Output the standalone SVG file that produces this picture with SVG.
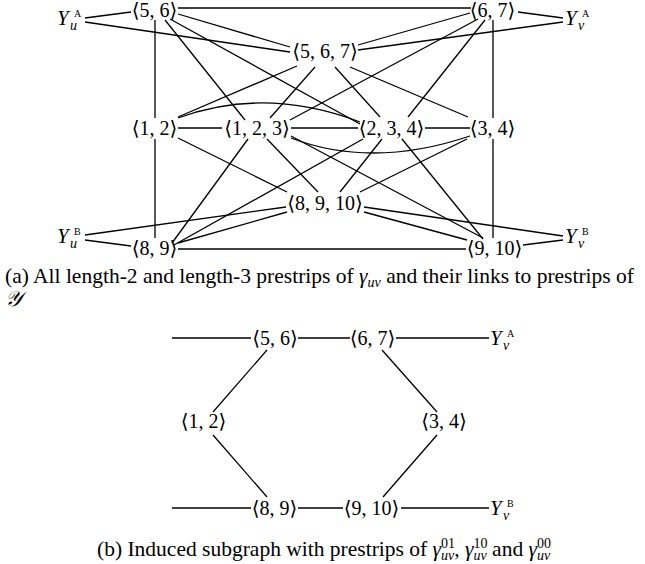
<svg xmlns="http://www.w3.org/2000/svg" width="645" height="564" viewBox="0 0 645 564">
<style>
.n{font-family:'Liberation Serif','DejaVu Serif',serif;font-size:20px;text-anchor:middle;fill:#000}
.y{font-family:'Liberation Serif','DejaVu Serif',serif;font-size:21px;fill:#000}
.y .i{font-style:italic}
.y .sup{font-size:10px}
.y .sub{font-size:14px;font-style:italic}
.c{font-family:'Liberation Serif','DejaVu Serif',serif;font-size:21.5px;fill:#000}
.c .i{font-style:italic}
.c .s{font-size:14px}
.e line,.e path{stroke:#000;stroke-width:1.3;fill:none}
</style>
<rect width="645" height="564" fill="#fff"/>
<g id="connectors-a" class="e">
<line x1="85" y1="18" x2="131" y2="12"/>
<line x1="85" y1="22" x2="290" y2="52"/>
<line x1="178" y1="8" x2="471" y2="8"/>
<line x1="518" y1="12" x2="563" y2="18"/>
<line x1="358" y1="50" x2="563" y2="22"/>
<line x1="358" y1="45" x2="470" y2="13"/>
<line x1="178" y1="14" x2="290" y2="47"/>
<line x1="155" y1="20" x2="155" y2="118"/>
<line x1="165" y1="20" x2="245" y2="120"/>
<line x1="170" y1="19" x2="360" y2="124"/>
<line x1="493" y1="20" x2="493" y2="118"/>
<line x1="485" y1="20" x2="408" y2="117"/>
<line x1="478" y1="19" x2="290" y2="120"/>
<line x1="297" y1="66" x2="178" y2="117"/>
<line x1="315" y1="67" x2="270" y2="118"/>
<line x1="335" y1="67" x2="380" y2="117"/>
<line x1="350" y1="67" x2="468" y2="117"/>
<line x1="178" y1="128" x2="222" y2="128"/>
<line x1="291" y1="128" x2="358" y2="128"/>
<line x1="425" y1="128" x2="470" y2="128"/>
<path d="M178,118 Q265,86 360,122"/>
<path d="M291,138 Q372,169 470,136"/>
<line x1="155" y1="139" x2="155" y2="238"/>
<line x1="178" y1="138" x2="287" y2="192"/>
<line x1="248" y1="139" x2="172" y2="243"/>
<line x1="267" y1="139" x2="318" y2="192"/>
<line x1="291" y1="136" x2="483" y2="238"/>
<line x1="363" y1="139" x2="174" y2="245"/>
<line x1="382" y1="139" x2="340" y2="192"/>
<line x1="402" y1="139" x2="483" y2="239"/>
<line x1="467" y1="139" x2="360" y2="192"/>
<line x1="493" y1="139" x2="493" y2="238"/>
<line x1="286" y1="207" x2="85" y2="235"/>
<line x1="287" y1="212" x2="178" y2="243"/>
<line x1="85" y1="240" x2="131" y2="246"/>
<line x1="178" y1="249" x2="466" y2="249"/>
<line x1="364" y1="207" x2="563" y2="236"/>
<line x1="364" y1="212" x2="467" y2="240"/>
<line x1="523" y1="245" x2="563" y2="240"/>
</g>
<g id="Yua"><text class="y" x="57" y="25"><tspan class="i">Y</tspan><tspan class="sup" x="74" y="17">A</tspan><tspan class="sub" x="70" y="30">u</tspan></text></g>
<g id="n56"><text class="n" x="154.5" y="17">⟨5, 6⟩</text></g>
<g id="n67"><text class="n" x="492.5" y="17">⟨6, 7⟩</text></g>
<g id="Yva"><text class="y" x="565" y="25"><tspan class="i">Y</tspan><tspan class="sup" x="582" y="17">A</tspan><tspan class="sub" x="578" y="30">v</tspan></text></g>
<g id="n567"><text class="n" x="325" y="58">⟨5, 6, 7⟩</text></g>
<g id="n12"><text class="n" x="154.5" y="135">⟨1, 2⟩</text></g>
<g id="n123"><text class="n" x="257" y="135">⟨1, 2, 3⟩</text></g>
<g id="n234"><text class="n" x="391.5" y="135">⟨2, 3, 4⟩</text></g>
<g id="n34"><text class="n" x="492.5" y="135">⟨3, 4⟩</text></g>
<g id="n8910"><text class="n" x="325" y="210">⟨8, 9, 10⟩</text></g>
<g id="Yub"><text class="y" x="57" y="243"><tspan class="i">Y</tspan><tspan class="sup" x="74" y="235">B</tspan><tspan class="sub" x="70" y="248">u</tspan></text></g>
<g id="n89"><text class="n" x="154.5" y="255">⟨8, 9⟩</text></g>
<g id="n910"><text class="n" x="494.5" y="255">⟨9, 10⟩</text></g>
<g id="Yvb"><text class="y" x="565" y="243"><tspan class="i">Y</tspan><tspan class="sup" x="582" y="235">B</tspan><tspan class="sub" x="578" y="248">v</tspan></text></g>
<g id="cap-a"><text class="c" x="5" y="283">(a) All length-2 and length-3 prestrips of <tspan class="i">γ</tspan><tspan class="i s" dy="4">uv</tspan><tspan dy="-4"> and their links to prestrips of</tspan></text>
<text class="c" x="5" y="306" font-size="19"><tspan class="i">𝒴</tspan></text></g>
<g id="connectors-b" class="e">
<line x1="172" y1="338" x2="251" y2="338"/>
<line x1="298" y1="338" x2="350" y2="338"/>
<line x1="396" y1="338" x2="489" y2="338"/>
<line x1="267" y1="350" x2="213" y2="412"/>
<line x1="382" y1="350" x2="437" y2="412"/>
<line x1="213" y1="435" x2="267" y2="497"/>
<line x1="437" y1="435" x2="383" y2="497"/>
<line x1="172" y1="508" x2="251" y2="508"/>
<line x1="298" y1="508" x2="343" y2="508"/>
<line x1="401" y1="508" x2="489" y2="508"/>
</g>
<g id="b56"><text class="n" x="275" y="345">⟨5, 6⟩</text></g>
<g id="b67"><text class="n" x="372.5" y="345">⟨6, 7⟩</text></g>
<g id="bYva"><text class="y" x="490" y="345"><tspan class="i">Y</tspan><tspan class="sup" x="507" y="337">A</tspan><tspan class="sub" x="503" y="350">v</tspan></text></g>
<g id="b12"><text class="n" x="203.5" y="428">⟨1, 2⟩</text></g>
<g id="b34"><text class="n" x="444" y="428">⟨3, 4⟩</text></g>
<g id="b89"><text class="n" x="274.5" y="515">⟨8, 9⟩</text></g>
<g id="b910"><text class="n" x="371.5" y="515">⟨9, 10⟩</text></g>
<g id="bYvb"><text class="y" x="490" y="515"><tspan class="i">Y</tspan><tspan class="sup" x="507" y="507">B</tspan><tspan class="sub" x="503" y="520">v</tspan></text></g>
<g id="cap-b"><text class="c" x="97" y="556" font-size="21"><tspan>(b) Induced subgraph with prestrips of </tspan><tspan class="i">γ</tspan><tspan class="s" dy="-8">01</tspan><tspan class="i s" dx="-14" dy="12">uv</tspan><tspan dy="-4">, </tspan><tspan class="i">γ</tspan><tspan class="s" dy="-8">10</tspan><tspan class="i s" dx="-14" dy="12">uv</tspan><tspan dy="-4"> and </tspan><tspan class="i">γ</tspan><tspan class="s" dy="-8">00</tspan><tspan class="i s" dx="-14" dy="12">uv</tspan></text></g>
</svg>
